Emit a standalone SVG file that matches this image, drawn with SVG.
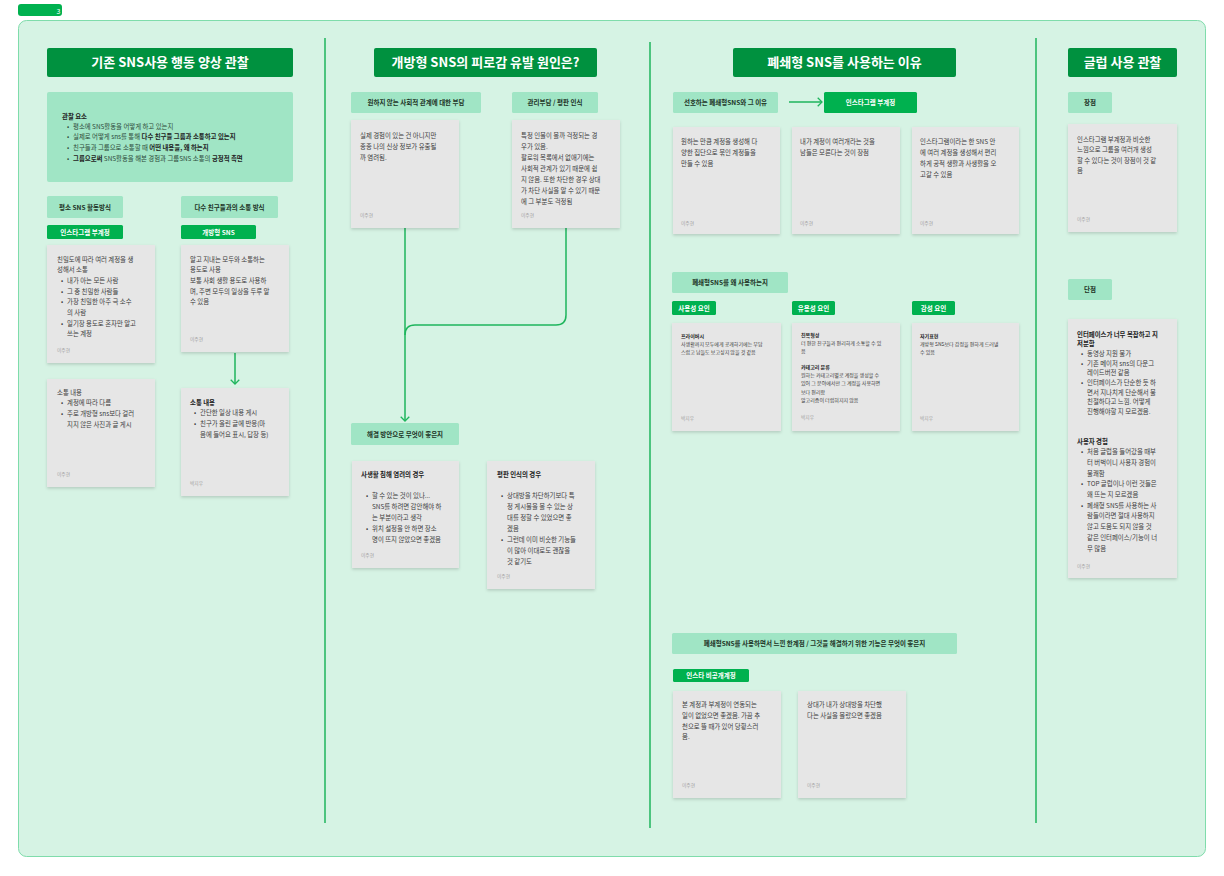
<svg xmlns="http://www.w3.org/2000/svg" width="1224" height="876" viewBox="0 0 1224 876">
<defs>
<style>
text{font-family:"Noto Sans CJK KR","Noto Sans",sans-serif}
.title{font-size:13px;font-weight:700;fill:#fff;text-anchor:middle}
.lbl{font-size:6.5px;font-weight:700;fill:#1d3326;text-anchor:middle}
.tag{font-size:6.5px;font-weight:700;fill:#fff;text-anchor:middle}
.body{font-size:6.4px;fill:#3b3b3b}
.obs{font-size:6.4px;fill:#2d4a3a}
.sm{font-size:5px;fill:#3b3b3b}
.b{font-weight:700;fill:#222}
.au{font-size:4.7px;fill:#a0a0a0}
.ttl{fill:#00913f}
.lb{fill:#a0e5c5}
.tg{fill:#00b14f}
.note{fill:#e6e6e6;filter:url(#sh)}
.div{stroke:#1eb55c;stroke-width:1.5}
.con{fill:none;stroke:#1eb55c;stroke-width:1.5}
</style>
<filter id="sh" x="-10%" y="-10%" width="120%" height="125%"><feDropShadow dx="0" dy="1.5" stdDeviation="1.5" flood-color="#000" flood-opacity="0.16"/></filter>
<marker id="ah" markerUnits="userSpaceOnUse" markerWidth="12" markerHeight="12" viewBox="-7 -7 12 14" refX="0" refY="0" orient="auto"><path d="M-5,-5 L0,0 L-5,5" fill="none" stroke="#1eb55c" stroke-width="1.5"/></marker>
</defs>

<g id="frame">
<rect x="18" y="4" width="44" height="12" rx="3" fill="#00b14f"/>
<text x="60.5" y="13.5" font-size="7" fill="#fff" text-anchor="end">3</text>
<rect x="18.5" y="20.5" width="1187" height="836" rx="8" fill="#d6f3e4" stroke="#7fdcab" stroke-width="1"/>
<line class="div" x1="325" y1="38" x2="325" y2="823"/>
<line class="div" x1="650" y1="42" x2="650" y2="828"/>
<line class="div" x1="1036" y1="38" x2="1036" y2="823"/>
</g>

<g id="connectors">
<line class="con" x1="235" y1="353" x2="235" y2="384" marker-end="url(#ah)"/>
<path class="con" d="M405,228 V421" marker-end="url(#ah)"/>
<path class="con" d="M566,228 V315 Q566,325 556,325 H415 Q405,325 405,335"/>
<line class="con" x1="789" y1="102" x2="822" y2="102" marker-end="url(#ah)"/>
</g>

<g id="title1"><rect class="ttl" x="47" y="48" width="246" height="29" rx="2"/><text class="title" x="170" y="67.3">기존 SNS사용 행동 양상 관찰</text></g>
<g id="title2"><rect class="ttl" x="374" y="48" width="223" height="29" rx="2"/><text class="title" x="485.5" y="67.3">개방형 SNS의 피로감 유발 원인은?</text></g>
<g id="title3"><rect class="ttl" x="733" y="48" width="223" height="29" rx="2"/><text class="title" x="844.5" y="67.3">폐쇄형 SNS를 사용하는 이유</text></g>
<g id="title4"><rect class="ttl" x="1068" y="48" width="109" height="29" rx="2"/><text class="title" x="1122.5" y="67.3">글럽 사용 관찰</text></g>

<g id="observe">
<rect class="lb" x="47" y="92" width="246" height="90" rx="2"/>
<text class="obs b" x="62" y="118.5">관찰 요소</text>
<text class="obs"><tspan x="67" y="128.5">•</tspan><tspan x="73">평소에 SNS활동을 어떻게 하고 있는지</tspan></text>
<text class="obs"><tspan x="67" y="139.2">•</tspan><tspan x="73">실제로 어떻게 sns를 통해 </tspan><tspan class="b">다수 친구들 그룹과 소통하고 있는지</tspan></text>
<text class="obs"><tspan x="67" y="149.9">•</tspan><tspan x="73">친구들과 그룹으로 소통할 때 </tspan><tspan class="b">어떤 내용을, 왜 하는지</tspan></text>
<text class="obs"><tspan x="67" y="160.6">•</tspan><tspan x="73" class="b">그룹으로써</tspan><tspan> SNS활동을 해본 경험과 그룹SNS 소통의 </tspan><tspan class="b">긍정적 측면</tspan></text>
</g>

<g id="lbl-habit"><rect class="lb" x="47" y="196" width="76" height="22" rx="1.5"/><text class="lbl" x="85" y="209.5">평소 SNS 활동방식</text></g>
<g id="lbl-comm"><rect class="lb" x="181" y="196" width="97" height="22" rx="1.5"/><text class="lbl" x="229.5" y="209.5">다수 친구들과의 소통 방식</text></g>
<g id="tag-insta"><rect class="tg" x="47" y="225" width="76" height="14" rx="1.5"/><text class="tag" x="85" y="234.5">인스타그램 부계정</text></g>
<g id="tag-open"><rect class="tg" x="181" y="225" width="75" height="14" rx="1.5"/><text class="tag" x="218.5" y="234.5">개방형 SNS</text></g>

<g id="noteA">
<rect class="note" x="47" y="245" width="108" height="118"/>
<text class="body" x="57" y="261.5">친밀도에 따라 여러 계정을 생</text>
<text class="body" x="57" y="272.2">성해서 소통</text>
<text class="body"><tspan x="61" y="282.9">•</tspan><tspan x="67">내가 아는 모든 사람</tspan></text>
<text class="body"><tspan x="61" y="293.6">•</tspan><tspan x="67">그 중 친밀한 사람들</tspan></text>
<text class="body"><tspan x="61" y="304.3">•</tspan><tspan x="67">가장 친밀한 아주 극 소수</tspan></text>
<text class="body" x="67" y="315">의 사람</text>
<text class="body"><tspan x="61" y="325.7">•</tspan><tspan x="67">일기장 용도로 혼자만 알고</tspan></text>
<text class="body" x="67" y="336.4">쓰는 계정</text>
<text class="au" x="57" y="352">이주현</text>
</g>

<g id="noteB">
<rect class="note" x="181" y="245" width="108" height="107"/>
<text class="body" x="190" y="261.5">알고 지내는 모두와 소통하는</text>
<text class="body" x="190" y="272.2">용도로 사용</text>
<text class="body" x="190" y="282.9">보통 사회 생활 용도로 사용하</text>
<text class="body" x="190" y="293.6">며, 주변 모두의 일상을 두루 알</text>
<text class="body" x="190" y="304.3">수 있음</text>
<text class="au" x="190" y="341">이주현</text>
</g>

<g id="noteC">
<rect class="note" x="47" y="379" width="108" height="108"/>
<text class="body" x="57" y="394.5">소통 내용</text>
<text class="body"><tspan x="61" y="405.2">•</tspan><tspan x="67">계정에 따라 다름</tspan></text>
<text class="body"><tspan x="61" y="415.9">•</tspan><tspan x="67">주로 개방형 sns보다 걸러</tspan></text>
<text class="body" x="67" y="426.6">지지 않은 사진과 글 게시</text>
<text class="au" x="57" y="476">이주현</text>
</g>

<g id="noteD">
<rect class="note" x="181" y="388" width="108" height="108"/>
<text class="body b" x="190" y="404.5">소통 내용</text>
<text class="body"><tspan x="194" y="415.2">•</tspan><tspan x="200">간단한 일상 내용 게시</tspan></text>
<text class="body"><tspan x="194" y="425.9">•</tspan><tspan x="200">친구가 올린 글에 반응(마</tspan></text>
<text class="body" x="200" y="436.6">음에 들어요 표시, 답장 등)</text>
<text class="au" x="190" y="485">박지우</text>
</g>

<g id="lbl-burden"><rect class="lb" x="351" y="92" width="130" height="21" rx="1.5"/><text class="lbl" x="416" y="105">원하지 않는 사회적 관계에 대한 부담</text></g>
<g id="lbl-manage"><rect class="lb" x="512" y="92" width="86" height="21" rx="1.5"/><text class="lbl" x="555" y="105">관리부담 / 평판 인식</text></g>

<g id="noteE">
<rect class="note" x="351" y="120" width="108" height="108"/>
<text class="body" x="360" y="137.5">실제 경험이 있는 건 아니지만</text>
<text class="body" x="360" y="148.5">종종 나의 신상 정보가 유출될</text>
<text class="body" x="360" y="159.5">까 염려됨.</text>
<text class="au" x="360" y="217">이주현</text>
</g>

<g id="noteF">
<rect class="note" x="512" y="120" width="108" height="108"/>
<text class="body" x="521" y="137.5">특정 인물이 볼까 걱정되는 경</text>
<text class="body" x="521" y="148.5">우가 있음.</text>
<text class="body" x="521" y="159.5">팔로워 목록에서 없애기에는</text>
<text class="body" x="521" y="170.5">사회적 관계가 있기 때문에 쉽</text>
<text class="body" x="521" y="181.5">지 않음. 또한 차단한 경우 상대</text>
<text class="body" x="521" y="192.5">가 차단 사실을 알 수 있기 때문</text>
<text class="body" x="521" y="203.5">에 그 부분도 걱정됨</text>
<text class="au" x="521" y="217">이주현</text>
</g>

<g id="lbl-solution"><rect class="lb" x="351" y="423" width="108" height="22" rx="1.5"/><text class="lbl" x="405" y="436.5">해결 방안으로 무엇이 좋은지</text></g>

<g id="noteG">
<rect class="note" x="352" y="461" width="107" height="107"/>
<text class="body b" x="361" y="476.5">사생활 침해 염려의 경우</text>
<text class="body"><tspan x="366" y="497.5">•</tspan><tspan x="372">할 수 있는 것이 있나...</tspan></text>
<text class="body" x="372" y="508.5">SNS를 하려면 감안해야 하</text>
<text class="body" x="372" y="519.5">는 부분이라고 생각</text>
<text class="body"><tspan x="366" y="530.5">•</tspan><tspan x="372">위치 설정을 안 하면 장소</tspan></text>
<text class="body" x="372" y="541.5">명이 뜨지 않았으면 좋겠음</text>
<text class="au" x="361" y="557">이주현</text>
</g>

<g id="noteH">
<rect class="note" x="487" y="461" width="108" height="128"/>
<text class="body b" x="497" y="476.5">평판 인식의 경우</text>
<text class="body"><tspan x="501" y="497.5">•</tspan><tspan x="507">상대방을 차단하기보다 특</tspan></text>
<text class="body" x="507" y="508.5">정 게시물을 볼 수 있는 상</text>
<text class="body" x="507" y="519.5">대를 정할 수 있었으면 좋</text>
<text class="body" x="507" y="530.5">겠음</text>
<text class="body"><tspan x="501" y="541.5">•</tspan><tspan x="507">그런데 이미 비슷한 기능들</tspan></text>
<text class="body" x="507" y="552.5">이 많아 이대로도 괜찮을</text>
<text class="body" x="507" y="563.5">것 같기도</text>
<text class="au" x="497" y="578">이주현</text>
</g>

<g id="lbl-prefer"><rect class="lb" x="673" y="92" width="105" height="21" rx="1.5"/><text class="lbl" x="725.5" y="105">선호하는 폐쇄형SNS와 그 이유</text></g>
<g id="tag-insta2"><rect class="tg" x="824" y="92" width="93" height="21" rx="1.5"/><text class="tag" x="870.5" y="105">인스타그램 부계정</text></g>

<g id="noteI">
<rect class="note" x="673" y="127" width="107" height="107"/>
<text class="body" x="681" y="143.5">원하는 만큼 계정을 생성해 다</text>
<text class="body" x="681" y="154.5">양한 집단으로 묶인 계정들을</text>
<text class="body" x="681" y="165.5">만들 수 있음</text>
<text class="au" x="681" y="225">이주현</text>
</g>
<g id="noteJ">
<rect class="note" x="792" y="127" width="108" height="107"/>
<text class="body" x="800" y="143.5">내가 계정이 여러개라는 것을</text>
<text class="body" x="800" y="154.5">남들은 모른다는 것이 장점</text>
<text class="au" x="800" y="225">이주현</text>
</g>
<g id="noteK">
<rect class="note" x="912" y="127" width="107" height="107"/>
<text class="body" x="920" y="143.5">인스타그램이라는 한 SNS 안</text>
<text class="body" x="920" y="154.5">에 여러 계정을 생성해서 편리</text>
<text class="body" x="920" y="165.5">하게 공적 생활과 사생활을 오</text>
<text class="body" x="920" y="176.5">고갈 수 있음</text>
<text class="au" x="920" y="225">이주현</text>
</g>

<g id="lbl-why"><rect class="lb" x="672" y="272" width="116" height="21" rx="1.5"/><text class="lbl" x="730" y="285">폐쇄형SNS를 왜 사용하는지</text></g>
<g id="tag-usability"><rect class="tg" x="672" y="301" width="44" height="14" rx="1.5"/><text class="tag" x="694" y="310.5">사용성 요인</text></g>
<g id="tag-utility"><rect class="tg" x="792" y="301" width="43" height="14" rx="1.5"/><text class="tag" x="813.5" y="310.5">유용성 요인</text></g>
<g id="tag-emotion"><rect class="tg" x="912" y="301" width="43" height="14" rx="1.5"/><text class="tag" x="933.5" y="310.5">감성 요인</text></g>

<g id="noteL">
<rect class="note" x="672" y="323" width="109" height="108"/>
<text class="sm b" x="681" y="338">프라이버시</text>
<text class="sm" x="681" y="346.2">사생활까지 모두에게 공개하기에는 부담</text>
<text class="sm" x="681" y="354.4">스럽고 남들도 보고싶지 않을 것 같음</text>
<text class="au" x="681" y="420">박지우</text>
</g>
<g id="noteM">
<rect class="note" x="792" y="323" width="108" height="108"/>
<text class="sm b" x="801" y="337">친목형성</text>
<text class="sm" x="801" y="345.2">더 편한 친구들과 편리하게 소통할 수 있</text>
<text class="sm" x="801" y="353.4">음</text>
<text class="sm b" x="801" y="369">카테고리 분류</text>
<text class="sm" x="801" y="377.2">원하는 카테고리별로 계정을 생성할 수</text>
<text class="sm" x="801" y="385.4">있어 그 분야에서만 그 계정을 사용하면</text>
<text class="sm" x="801" y="393.6">보다 편리함</text>
<text class="sm" x="801" y="401.8">알고리즘이 더럽혀지지 않음</text>
<text class="au" x="801" y="419">박지우</text>
</g>
<g id="noteN">
<rect class="note" x="912" y="323" width="107" height="108"/>
<text class="sm b" x="920" y="338">자기표현</text>
<text class="sm" x="920" y="346.2">개방형 SNS보다 감정을 편하게 드러낼</text>
<text class="sm" x="920" y="354.4">수 있음</text>
<text class="au" x="920" y="420">박지우</text>
</g>

<g id="lbl-limit"><rect class="lb" x="672" y="633" width="285" height="21" rx="1.5"/><text class="lbl" x="814.5" y="646">폐쇄형SNS를 사용하면서 느낀 한계점 / 그것을 해결하기 위한 기능은 무엇이 좋은지</text></g>
<g id="tag-private"><rect class="tg" x="673" y="669" width="76" height="13" rx="1.5"/><text class="tag" x="711" y="678">인스타 비공개계정</text></g>

<g id="noteO">
<rect class="note" x="673" y="691" width="108" height="107"/>
<text class="body" x="682" y="707.3">본 계정과 부계정이 연동되는</text>
<text class="body" x="682" y="718">일이 없었으면 좋겠음. 가끔 추</text>
<text class="body" x="682" y="728.7">천으로 뜰 때가 있어 당황스러</text>
<text class="body" x="682" y="739.4">움.</text>
<text class="au" x="682" y="787">이주현</text>
</g>
<g id="noteP">
<rect class="note" x="798" y="691" width="108" height="107"/>
<text class="body" x="807" y="707.3">상대가 내가 상대방을 차단했</text>
<text class="body" x="807" y="718">다는 사실을 몰랐으면 좋겠음</text>
<text class="au" x="807" y="787">이주현</text>
</g>

<g id="lbl-pro"><rect class="lb" x="1068" y="92" width="44" height="21" rx="1.5"/><text class="lbl" x="1090" y="105">장점</text></g>
<g id="noteQ">
<rect class="note" x="1068" y="124" width="109" height="108"/>
<text class="body" x="1077" y="141.5">인스타그램 부계정과 비슷한</text>
<text class="body" x="1077" y="152">느낌으로 그룹을 여러개 생성</text>
<text class="body" x="1077" y="162.5">할 수 있다는 것이 장점이 것 같</text>
<text class="body" x="1077" y="173">음</text>
<text class="au" x="1077" y="221">이주현</text>
</g>

<g id="lbl-con"><rect class="lb" x="1068" y="279" width="44" height="21" rx="1.5"/><text class="lbl" x="1090" y="292">단점</text></g>
<g id="noteR">
<rect class="note" x="1068" y="319" width="109" height="259"/>
<text class="body b" x="1077" y="336.5">인터페이스가 너무 복잡하고 지</text>
<text class="body b" x="1077" y="346.2">저분함</text>
<text class="body"><tspan x="1081" y="355.9">•</tspan><tspan x="1087">동영상 지원 불가</tspan></text>
<text class="body"><tspan x="1081" y="365.6">•</tspan><tspan x="1087">기존 메이저 sns의 다운그</tspan></text>
<text class="body" x="1087" y="375.3">레이드버전 같음</text>
<text class="body"><tspan x="1081" y="385">•</tspan><tspan x="1087">인터페이스가 단순한 듯 하</tspan></text>
<text class="body" x="1087" y="394.7">면서 지나치게 단순해서 불</text>
<text class="body" x="1087" y="404.4">친절하다고 느낌. 어떻게</text>
<text class="body" x="1087" y="414.1">진행해야할 지 모르겠음.</text>
<text class="body b" x="1077" y="443.5">사용자 경험</text>
<text class="body"><tspan x="1081" y="454.2">•</tspan><tspan x="1087">처음 글럽을 들어갔을 때부</tspan></text>
<text class="body" x="1087" y="464.9">터 버벅이니 사용자 경험이</text>
<text class="body" x="1087" y="475.6">불쾌함</text>
<text class="body"><tspan x="1081" y="486.3">•</tspan><tspan x="1087">TOP 글럽이나 이런 것들은</tspan></text>
<text class="body" x="1087" y="497">왜 뜨는 지 모르겠음</text>
<text class="body"><tspan x="1081" y="507.7">•</tspan><tspan x="1087">폐쇄형 SNS를 사용하는 사</tspan></text>
<text class="body" x="1087" y="518.4">람들이라면 절대 사용하지</text>
<text class="body" x="1087" y="529.1">않고 도움도 되지 않을 것</text>
<text class="body" x="1087" y="539.8">같은 인터페이스/기능이 너</text>
<text class="body" x="1087" y="550.5">무 많음</text>
<text class="au" x="1077" y="568">이주현</text>
</g>
</svg>
